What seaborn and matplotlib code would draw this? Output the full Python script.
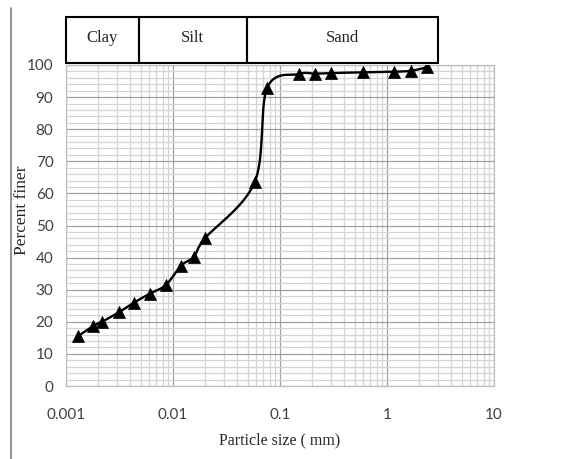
import numpy as np
import matplotlib
matplotlib.use("Agg")
import matplotlib.pyplot as plt
import matplotlib.transforms as mtransforms
from matplotlib.lines import Line2D
from matplotlib.patches import Rectangle
from matplotlib.ticker import FixedLocator, LogLocator, MultipleLocator, NullFormatter
import seaborn as sns

# Grain-size distribution (hydrometer + sieve analysis)
particle_size_mm = [0.00129, 0.00179, 0.00217, 0.00313, 0.00433, 0.0061, 0.0086,
                    0.0119, 0.0157, 0.0199, 0.058, 0.0757,
                    0.151, 0.212, 0.300, 0.597, 1.16, 1.68, 2.37]
percent_finer = [15.5, 18.7, 20.0, 23.0, 26.0, 28.8, 31.5,
                 37.5, 40.3, 46.0, 63.5, 92.8,
                 97.2, 97.3, 97.5, 97.7, 97.9, 98.2, 99.3]

soil_classes = ["Clay", "Silt", "Sand"]
class_edges_mm = [0.001, 0.0048, 0.049, 3.0]

x_ticks = [0.001, 0.01, 0.1, 1, 10]
x_tick_labels = ["0.001", "0.01", "0.1", "1", "10"]
y_ticks = list(range(0, 101, 10))

sns.set_style("white")
plt.rcParams["font.family"] = ["Liberation Serif", "DejaVu Serif"]

W, H = 572, 459
fig = plt.figure(figsize=(W / 100, H / 100), dpi=100)
ax_left, ax_right, ax_top, ax_bottom = 66, 494, 65, 386
ax_w, ax_h = ax_right - ax_left, ax_bottom - ax_top
ax = fig.add_axes([ax_left / W, 1 - ax_bottom / H, ax_w / W, ax_h / H])

ax.set_xscale("log")
ax.set_xlim(0.001, 10)
ax.set_ylim(0, 100)


def smooth_curve(x, y, sx, sy, n=40):
    """Bezier smoothing through the points, done in screen-like space."""
    pts = np.column_stack([np.log10(x) * sx, np.asarray(y, float) * sy])
    ext = np.vstack([pts[0], pts, pts[-1]])
    t = np.linspace(0, 1, n)[:, None]
    out = []
    for i in range(len(pts) - 1):
        p0, p3 = ext[i + 1], ext[i + 2]
        c1 = p0 + (ext[i + 2] - ext[i]) / 6
        c2 = p3 - (ext[i + 3] - ext[i + 1]) / 6
        seg = (1 - t) ** 3 * p0 + 3 * (1 - t) ** 2 * t * c1 + 3 * (1 - t) * t ** 2 * c2 + t ** 3 * p3
        out.append(seg if i == 0 else seg[1:])
    out = np.vstack(out)
    return 10 ** (out[:, 0] / sx), out[:, 1] / sy


cx, cy = smooth_curve(particle_size_mm, percent_finer, ax_w / 4, ax_h / 100)

sns.lineplot(x=cx, y=cy, sort=False, estimator=None, color="black",
             linewidth=1.7, ax=ax, zorder=3)
sns.scatterplot(x=particle_size_mm, y=percent_finer, marker="^", s=75,
                color="black", edgecolor="black", linewidth=0.5, ax=ax, zorder=4)

# grid
ax.xaxis.set_major_locator(FixedLocator(x_ticks))
ax.set_xticklabels(x_tick_labels)
ax.xaxis.set_minor_locator(LogLocator(base=10, subs=range(2, 10)))
ax.xaxis.set_minor_formatter(NullFormatter())
ax.set_yticks(y_ticks)
ax.yaxis.set_minor_locator(MultipleLocator(2))
ax.grid(which="minor", color="#d4d4d4", linewidth=0.9)
ax.grid(which="major", color="#a0a0a0", linewidth=0.9)
ax.set_axisbelow(True)
ax.tick_params(which="both", length=0)
ax.tick_params(axis="x", pad=16)
ax.tick_params(axis="y", pad=9)
for lab in ax.get_xticklabels() + ax.get_yticklabels():
    lab.set_fontfamily(["Lato", "DejaVu Sans"])
    lab.set_fontsize(11)
    lab.set_color("#404040")
for s in ax.spines.values():
    s.set_color("#bfbfbf")
    s.set_linewidth(0.9)

ax.set_xlabel("Particle size ( mm)", fontsize=11.5)
ax.set_ylabel("Percent finer", fontsize=12.5)
ax.xaxis.set_label_coords((280 - ax_left) / ax_w, (ax_bottom - 440) / ax_h)
ax.yaxis.set_label_coords((22 - ax_left) / ax_w, (ax_bottom - 210) / ax_h)
ax.xaxis.label.set_va("center")
ax.yaxis.label.set_va("center")

# soil classification header
trans = mtransforms.blended_transform_factory(ax.transData, ax.transAxes)
y0 = (ax_bottom - 63) / ax_h
y1 = (ax_bottom - 17) / ax_h
for name, a, b in zip(soil_classes, class_edges_mm[:-1], class_edges_mm[1:]):
    ax.add_patch(Rectangle((a, y0), b - a, y1 - y0, transform=trans,
                           fill=False, edgecolor="black", linewidth=1.5,
                           clip_on=False))
    ax.text(np.sqrt(a * b), y0 + (y1 - y0) * 0.55, name, transform=trans,
            ha="center", va="center", fontsize=12)

fig.add_artist(Line2D([11 / W, 11 / W], [0, 1 - 8 / H], transform=fig.transFigure,
                      color="#808080", linewidth=1.2))

fig.savefig("out.png", dpi=100)
